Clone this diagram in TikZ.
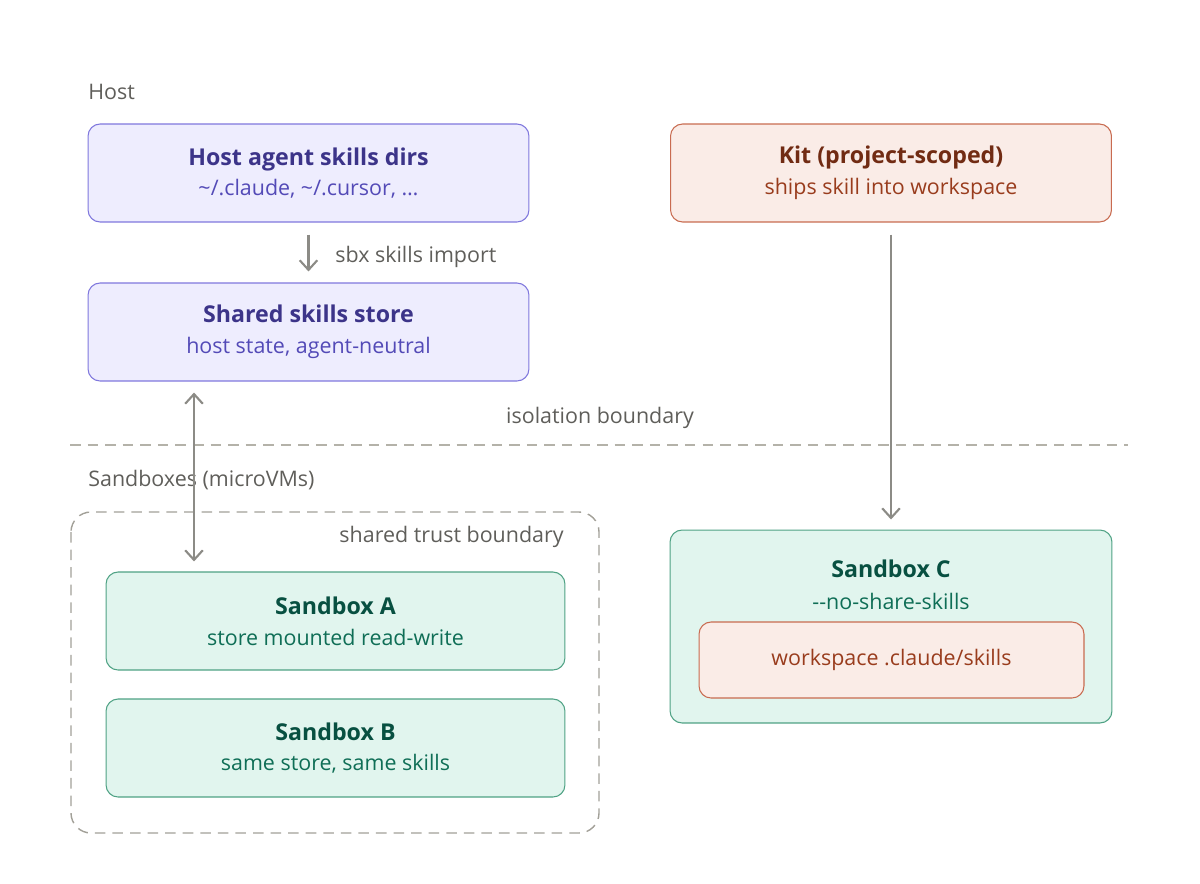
\documentclass[tikz,border=0pt]{standalone}
\usepackage{fontspec}
\setmainfont{Open Sans}
\usepackage{xcolor}
\usetikzlibrary{arrows.meta,positioning,calc}
\definecolor{hostfill}{HTML}{EEEDFE}
\definecolor{hostline}{HTML}{7F77DD}
\definecolor{hosttitle}{HTML}{3C3489}
\definecolor{hostsub}{HTML}{534AB7}
\definecolor{kitfill}{HTML}{FAECE7}
\definecolor{kitline}{HTML}{C86B50}
\definecolor{kittitle}{HTML}{712B13}
\definecolor{kitsub}{HTML}{993C1D}
\definecolor{sbfill}{HTML}{E1F5EE}
\definecolor{sbline}{HTML}{4FA284}
\definecolor{sbtitle}{HTML}{085041}
\definecolor{sbsub}{HTML}{0F6E56}
\definecolor{arrowgray}{HTML}{8C8B86}
\definecolor{labelgray}{HTML}{5F5E5A}
\definecolor{dashgray}{HTML}{B4B2A9}
\newcommand{\boxtitle}[1]{{\bfseries\fontsize{13.2}{15.5}\selectfont #1}}
\tikzset{
  box/.style={draw,rounded corners=0.24cm,line width=0.6pt,minimum width=8.82cm,
    minimum height=1.96cm,align=center,inner sep=0pt},
  hostbox/.style={box,fill=hostfill,draw=hostline},
  kitbox/.style={box,fill=kitfill,draw=kitline},
  sbbox/.style={box,fill=sbfill,draw=sbline},
  flow/.style={->,draw=arrowgray,line width=1.2pt},
  lbl/.style={text=labelgray,inner sep=0pt},
  boundary/.style={draw=dashgray,line width=0.8pt,dash pattern=on 6pt off 4pt}
}
\begin{document}
\begin{tikzpicture}[x=0.02cm,y=-0.02cm,>={Straight Barb[length=5.5pt,width=10pt]},
  font=\fontsize{12.2}{14.4}\selectfont]
  \useasboundingbox (0,0) rectangle (1200,883);
  % host side
  \node[lbl,anchor=west] (hostlbl) at (88,92) {Host};
  \node[hostbox] (host) at (308.5,173) {{\color{hosttitle}\boxtitle{Host agent skills dirs}}\\[3pt]
    {\color{hostsub}\textasciitilde/.claude, \textasciitilde/.cursor, …}};
  \node[hostbox] (store) at (308.5,332) {{\color{hosttitle}\boxtitle{Shared skills store}}\\[3pt]
    {\color{hostsub}host state, agent-neutral}};
  \node[kitbox] (kit) at (891,173) {{\color{kittitle}\boxtitle{Kit (project-scoped)}}\\[3pt]
    {\color{kitsub}ships skill into workspace}};
  \draw[flow,shorten <=0.24cm,shorten >=0.22cm] (host.south) -- (store.north);
  \node[lbl,anchor=west] (importlbl) at (335,257) {sbx skills import};
  % isolation boundary
  \coordinate (bl) at (70,445);
  \coordinate (br) at (1128,445);
  \draw[boundary] (bl) -- (br);
  \node[lbl] (isolbl) at (600,418) {isolation boundary};
  \node[lbl,anchor=west] (sblbl) at (88,480) {Sandboxes (microVMs)};
  % shared sandboxes
  \draw[boundary,draw=dashgray!90!black,rounded corners=0.4cm] (71,512) rectangle (599,833);
  \node[lbl,anchor=east] (trustlbl) at (564,537) {shared trust boundary};
  \node[sbbox,minimum width=9.18cm] (sbA) at (335.5,621) {{\color{sbtitle}\boxtitle{Sandbox A}}\\[3pt]
    {\color{sbsub}store mounted read-write}};
  \node[sbbox,minimum width=9.18cm] (sbB) at (335.5,748) {{\color{sbtitle}\boxtitle{Sandbox B}}\\[3pt]
    {\color{sbsub}same store, same skills}};
  \coordinate (lnk) at (194,0);
  \draw[flow,<->,shorten <=0.22cm,shorten >=0.2cm] (store.south -| lnk) -- (sbA.north -| lnk);
  % isolated sandbox
  \node[sbbox,minimum width=8.84cm,minimum height=3.86cm] (sbC) at (891,626.5) {};
  \node[text=sbtitle,inner sep=0pt] (sbCtitle) at (891,569) {\boxtitle{Sandbox C}};
  \node[text=sbsub,inner sep=0pt] (sbCsub) at (891,601) {-{}-no-share-skills};
  \node[kitbox,minimum width=7.7cm,minimum height=1.52cm] (ws) at (891.5,660)
    {{\color{kitsub}workspace .claude/skills}};
  \draw[flow,shorten <=0.24cm,shorten >=0.2cm] (kit.south) -- (sbC.north);
\end{tikzpicture}
\end{document}
